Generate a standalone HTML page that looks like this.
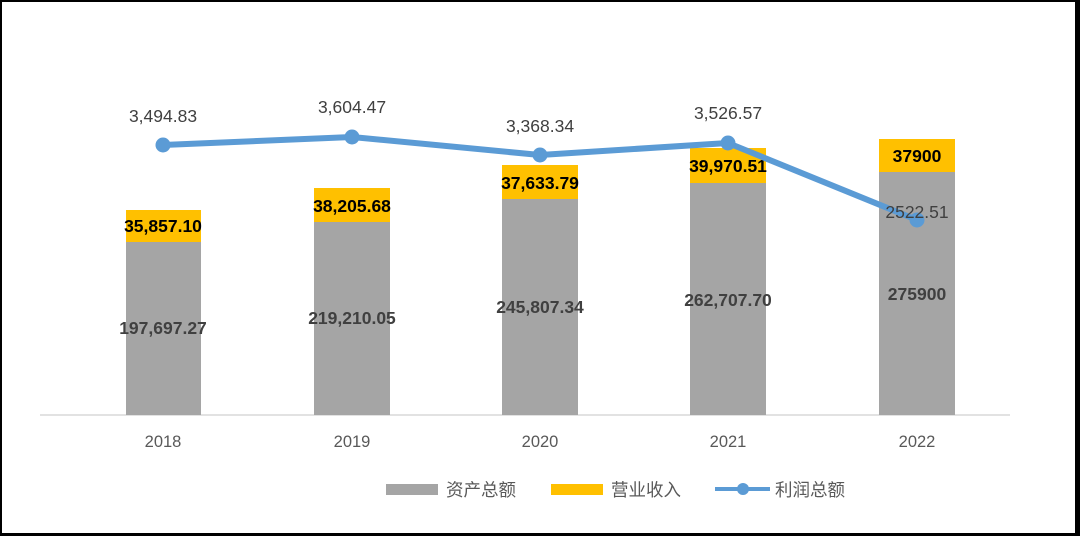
<!DOCTYPE html>
<html><head><meta charset="utf-8"><style>
html,body{margin:0;padding:0;background:#000}
svg{display:block}
text{font-family:"Liberation Sans","Noto Sans CJK SC",sans-serif}
</style></head><body>
<svg width="1080" height="536" xmlns="http://www.w3.org/2000/svg">
<rect x="0" y="0" width="1080" height="536" fill="#000"/>
<rect x="2" y="2" width="1073" height="531" fill="#fff"/>
<line x1="40" y1="415" x2="1010" y2="415" stroke="#d9d9d9" stroke-width="1.5"/>
<g fill="#a5a5a5">
<rect x="126" y="242" width="75" height="173"/>
<rect x="314" y="222" width="76" height="193"/>
<rect x="502" y="199" width="76" height="216"/>
<rect x="690" y="183" width="76" height="232"/>
<rect x="879" y="172" width="76" height="243"/>
</g>
<g fill="#ffc000">
<rect x="126" y="210" width="75" height="32"/>
<rect x="314" y="188" width="76" height="34"/>
<rect x="502" y="165" width="76" height="34"/>
<rect x="690" y="148" width="76" height="35"/>
<rect x="879" y="139" width="76" height="33"/>
</g>
<g font-size="17.5" font-weight="bold" fill="#000" text-anchor="middle">
<text x="163" y="232">35,857.10</text>
<text x="352" y="212">38,205.68</text>
<text x="540" y="189">37,633.79</text>
<text x="728" y="172">39,970.51</text>
<text x="917" y="162">37900</text>
</g>
<g font-size="17.5" font-weight="bold" fill="#404040" text-anchor="middle">
<text x="163" y="334">197,697.27</text>
<text x="352" y="324">219,210.05</text>
<text x="540" y="313">245,807.34</text>
<text x="728" y="306">262,707.70</text>
<text x="917" y="300">275900</text>
</g>
<polyline points="163,145 352,137 540,155 728,143 917,220" fill="none" stroke="#5b9bd5" stroke-width="6" stroke-linejoin="round"/>
<g fill="#5b9bd5">
<circle cx="163" cy="145" r="7.5"/><circle cx="352" cy="137" r="7.5"/><circle cx="540" cy="155" r="7.5"/><circle cx="728" cy="143" r="7.5"/><circle cx="917" cy="220" r="7.5"/>
</g>
<g font-size="17.5" fill="#404040" text-anchor="middle">
<text x="163" y="122">3,494.83</text>
<text x="352" y="113">3,604.47</text>
<text x="540" y="132">3,368.34</text>
<text x="728" y="119">3,526.57</text>
<text x="917" y="218">2522.51</text>
</g>
<g font-size="16.5" fill="#595959" text-anchor="middle">
<text x="163" y="447">2018</text>
<text x="352" y="447">2019</text>
<text x="540" y="447">2020</text>
<text x="728" y="447">2021</text>
<text x="917" y="447">2022</text>
</g>
<rect x="386" y="484" width="52" height="11" fill="#a5a5a5"/>
<rect x="551" y="484" width="52" height="11" fill="#ffc000"/>
<line x1="715" y1="489" x2="770" y2="489" stroke="#5b9bd5" stroke-width="4"/>
<circle cx="743" cy="489" r="6" fill="#5b9bd5"/>
<g font-size="17.5" fill="#595959">
<text x="446" y="496">资产总额</text>
<text x="611" y="496">营业收入</text>
<text x="775" y="496">利润总额</text>
</g>
</svg>
</body></html>
